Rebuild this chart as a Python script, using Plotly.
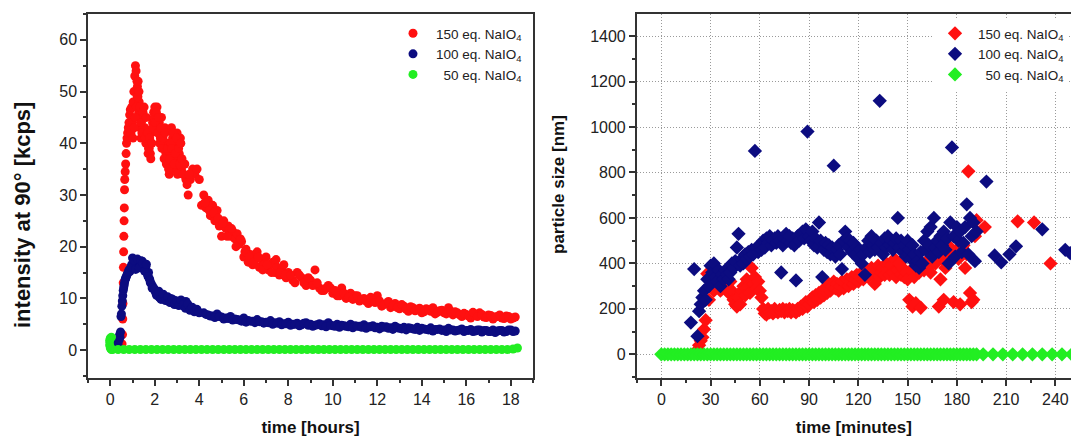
import plotly.graph_objects as go

# ---------------- Left panel: intensity at 90 deg vs time [hours] ----------------
red_h = [0.5,0.53,0.55,0.56,0.57,0.58,0.59,0.6,0.61,0.62,0.63,0.64,0.65,0.67,0.69,0.71,0.73,0.75,0.78,0.81,
         0.84,0.87,0.9,0.93,0.96,1.0,1.03,1.06,1.1,1.13,1.16,1.2,1.22,1.24,1.26,1.28,1.3,1.32,1.34,1.36,1.38,
         1.4,1.45,1.5,1.55,1.6,1.65,1.7,1.75,1.8,1.85,1.9,1.95,2.0,2.05,2.1,2.15,2.2,2.25,2.3,2.35,
         2.4,2.45,2.5,2.55,2.6,2.65,2.7,2.75,2.8,2.85,2.9,2.95,3.0,3.05,3.1,3.15,3.2,3.3,3.4,3.5,
         3.6,3.7,3.8,3.9,4.0,4.1,
         4.2,4.3,4.4,4.5,4.6,4.7,4.8,4.9,5.0,5.1,5.2,5.3,5.4,5.5,5.6,5.7,5.8,5.9,6.0,6.1,
         6.2,6.3,6.4,6.5,6.6,6.7,6.8,6.9,7.0,7.1,7.2,7.3,7.4,7.5,7.6,7.7,7.8,7.9,8.0,
         8.2,8.4,8.6,8.8,9.0,9.2,9.4,9.6,9.8,10.0,10.2,10.4,10.6,10.8,11.0,11.2,11.4,11.6,11.8,12.0,
         12.2,12.4,12.6,12.8,13.0,13.2,13.4,13.6,13.8,14.0,14.2,14.4,14.6,14.8,15.0,15.2,15.4,15.6,15.8,16.0,
         16.2,16.4,16.6,16.8,17.0,17.2,17.4,17.6,17.8,18.0,18.2]
red_kcps = [0.8,1.2,3,6,9,13,16,19,22,25,27.5,31,33,34.5,36,38,40,41,42,43,
            44,45.5,46.5,42,47,44,48,50,53,55,54,52,51,49,47,46,48,45,43,46,41,
            44,42,45,43,40,41,38,39,38,42,44,46,47,45,47,43,44,41,45,42,
            39,43,38,40,36,34,38,43,41,35,40,37,42,36,38,41,35,34,33,30,
            33,35,34,35,33,28,
            30,27.5,29,26,28,25,27,24,22,25,23.5,24,22,23,21.5,22.5,20.5,21,18,19.5,
            17,18.5,16.5,17.5,19,16,17.5,16.5,18,15.5,16.5,17,15,16,14.5,15.5,16.5,14,15,
            13.5,15,14,12.5,13.5,15.5,12,11.5,12.5,11,10.5,12,10,11,10.5,9.5,10,9,9.5,10.5,
            8.5,9,8.2,9,8,8.5,7.5,8.2,7.8,7.2,8,7.5,7,7.6,7.2,8.2,6.8,7.2,6.5,6.9,
            6.2,7,7.2,6.4,6.8,6,6.5,6.2,6.6,6,6.4]
red_h_more = [1.02,1.07,1.12,1.17,1.21,1.25,1.29,1.33,1.37,1.42,1.47,1.52,1.57,1.62,1.67,1.72,1.77,1.82,1.87,1.92,
              1.97,2.02,2.07,2.12,2.17,2.22,2.27,2.32,2.37,2.42,2.47,2.52,2.57,2.62,2.67,2.72,2.77,2.82,2.87,2.92,
              2.97,3.02,3.07,3.12,3.17,3.22,3.27,3.35,3.45,3.55,
              4.25,4.45,4.65,4.85,5.05,5.25,5.45,5.65,5.85,6.05,6.25,6.45,6.65,6.85,7.05,7.25,7.45,7.65,7.85,
              8.1,8.3,8.5,8.7,8.9,9.1,9.3,9.5,9.7,9.9,10.1,10.3,10.5,10.7,10.9,11.1,11.3,11.5,11.7,11.9,
              12.1,12.3,12.5,12.7,12.9,13.1,13.3,13.5,13.7,13.9,14.1,14.3,14.5,14.7,14.9,15.1,15.3,15.5,15.7,15.9,
              16.1,16.3,16.5,16.7,16.9,17.1,17.3,17.5,17.7,17.9,18.1]
red_kcps_more = [41,43,45,47,49,52,50,47,44,42,46,47,41,45,42,39,41,37,40,43,
                 45,44,46,42,45,40,43,39,41,37,42,36,39,35,37,40,39,42,36,38,
                 41,34,39,36,40,37,34,36,32,34,
                 28.5,27,26.5,25.5,24.5,22,23.5,20,21.5,19,18,17,18,15.5,16.5,15,17.5,15,14.5,
                 14.5,13,14.5,13,14,12.5,13,11.5,12,12,11.5,10.5,11,10.2,9.8,10.5,9.8,9.5,10.2,9.2,
                 9.5,8.8,9.4,8.6,8.2,8.8,7.9,8.4,7.6,8.1,7.4,7.8,8.2,7.3,7.7,7.0,7.5,7.4,6.8,7.1,
                 6.6,7.3,6.5,6.9,6.3,6.7,6.4,6.8,6.1,6.5,6.2]

blue_h = [0.0,0.02,0.04,0.06,0.1,0.15,0.2,0.25,0.3,0.35,0.4,0.42,0.44,0.46,0.48,
          0.5,0.52,0.54,0.56,0.58,0.6,0.62,0.64,0.66,0.68,0.7,0.73,0.76,0.8,0.84,0.88,0.92,0.96,1.0,
          1.04,1.08,1.12,1.16,1.2,1.24,1.28,1.32,1.36,1.4,1.44,1.48,
          1.52,1.56,1.6,1.64,1.68,1.72,1.76,1.8,1.85,1.9,1.95,2.0,2.05,2.1,2.15,2.2,2.3,2.4,2.5,2.6,
          2.7,2.8,2.9,3.0,3.1,3.2,3.3,3.4,3.5,3.6,3.7,3.8,3.9,4.0,
          4.2,4.4,4.6,4.8,5.0,5.2,5.4,5.6,5.8,6.0,6.2,6.4,6.6,6.8,7.0,7.2,7.4,7.6,7.8,8.0,
          8.2,8.4,8.6,8.8,9.0,9.2,9.4,9.6,9.8,10.0,10.2,10.4,10.6,10.8,11.0,11.2,11.4,11.6,11.8,12.0,
          12.2,12.4,12.6,12.8,13.0,13.2,13.4,13.6,13.8,14.0,14.2,14.4,14.6,14.8,15.0,15.2,15.4,15.6,15.8,16.0,
          16.2,16.4,16.6,16.8,17.0,17.2,17.4,17.6,17.8,18.0,18.2]
blue_kcps = [1.5,2.2,1.8,1.0,0.8,0.6,0.5,0.6,0.8,1.2,2.0,3.0,2.5,3.5,6.5,
             7,8.5,9.5,10.5,11.5,12,12.5,13,13.5,13.8,14,14.3,14.7,15,15.5,15.2,16,16.5,17.8,
             16.5,15.8,16.8,16,16.5,17.2,16.8,16.2,17,16.6,17.2,16,
             16.5,15.8,16.2,15,14.5,15,13.8,13,12.8,12.3,12,11.5,11,11.2,10.5,10.2,10,10.4,9.8,9.5,
             10,9.2,9.6,8.8,9.3,9,8.5,9.4,8.2,8,7.8,7.6,7.8,7.2,
             7.2,6.8,6.6,7,6.4,6.2,6.5,6.0,5.8,6.2,5.7,5.6,5.9,5.5,5.4,5.7,5.3,5.5,5.1,5.4,
             5.0,5.2,4.9,5.3,5.0,4.8,5.1,4.9,5.3,4.7,5.0,4.8,4.6,5.0,4.7,4.6,4.9,4.5,4.7,4.4,
             4.6,4.5,4.3,4.6,4.2,4.4,4.3,4.1,4.4,4.2,4.0,4.3,4.0,4.1,3.9,4.2,3.9,3.8,4.1,3.8,
             4.0,3.7,3.9,3.8,3.6,3.9,3.7,3.8,3.6,3.9,3.7]
blue_h_more = [0.98,1.06,1.14,1.22,1.3,1.38,1.46,1.54,1.62,1.7,1.78,1.88,1.98,2.08,2.18,2.28,2.38,2.48,2.58,2.68,
               2.78,2.88,2.98,3.08,3.18,3.28,3.38,3.48,3.58,3.68,3.78,3.88,3.98,
               4.3,4.5,4.7,4.9,5.1,5.3,5.5,5.7,5.9,6.1,6.3,6.5,6.7,6.9,7.1,7.3,7.5,7.7,7.9,8.1,
               8.3,8.5,8.7,8.9,9.1,9.3,9.5,9.7,9.9,10.1,10.3,10.5,10.7,10.9,11.1,11.3,11.5,11.7,11.9,12.1,
               12.3,12.5,12.7,12.9,13.1,13.3,13.5,13.7,13.9,14.1,14.3,14.5,14.7,14.9,15.1,15.3,15.5,15.7,15.9,16.1,
               16.3,16.5,16.7,16.9,17.1,17.3,17.5,17.7,17.9,18.1]
blue_kcps_more = [16.2,17.4,15.6,17.6,15.9,17.3,16.8,15.3,16.6,14.2,13.5,12.0,11.8,10.6,11.4,9.8,10.8,9.6,10.3,9.2,
                  9.9,8.8,9.5,8.6,9.7,8.8,8.1,8.9,7.7,8.3,7.4,7.9,7.3,
                  6.9,6.6,6.3,6.5,6.0,6.1,5.8,5.9,5.6,5.4,5.6,5.3,5.5,5.2,5.3,5.0,5.2,4.9,5.1,4.8,
                  5.0,4.7,5.2,4.8,4.6,4.9,4.7,4.5,4.8,4.6,4.4,4.7,4.5,4.3,4.6,4.4,4.2,4.5,4.3,4.1,
                  4.4,4.2,4.0,4.3,4.1,3.9,4.2,4.0,3.8,4.1,3.9,3.7,4.0,3.8,3.6,3.9,3.7,3.9,3.6,3.8,
                  3.6,3.9,3.5,3.8,3.6,3.4,3.8,3.5,3.9,3.6]

green_h = [0.05,0.0,-0.03,-0.03,0.0,0.05,
           0.1,0.35,0.6,0.85,1.1,1.35,1.6,1.85,2.1,2.35,2.6,2.85,3.1,3.35,3.6,3.85,4.1,4.35,4.6,4.85,
           5.1,5.35,5.6,5.85,6.1,6.35,6.6,6.85,7.1,7.35,7.6,7.85,8.1,8.35,8.6,8.85,9.1,9.35,9.6,9.85,
           10.1,10.35,10.6,10.85,11.1,11.35,11.6,11.85,12.1,12.35,12.6,12.85,13.1,13.35,13.6,13.85,
           14.1,14.35,14.6,14.85,15.1,15.35,15.6,15.85,16.1,16.35,16.6,16.85,17.1,17.35,17.6,17.85,18.1,18.3]
green_kcps = [2.5,2.3,1.8,1.0,0.4,0.1,
              0.1,0.1,0.1,0.1,0.1,0.1,0.1,0.1,0.1,0.1,0.1,0.1,0.1,0.1,0.1,0.1,0.1,0.1,0.1,0.1,
              0.1,0.1,0.1,0.1,0.1,0.1,0.1,0.1,0.1,0.1,0.1,0.1,0.1,0.1,0.1,0.1,0.1,0.1,0.1,0.1,
              0.1,0.1,0.1,0.1,0.1,0.1,0.1,0.1,0.1,0.1,0.1,0.1,0.1,0.1,0.1,0.1,
              0.1,0.1,0.1,0.1,0.1,0.1,0.1,0.1,0.1,0.1,0.1,0.1,0.1,0.1,0.1,0.1,0.2,0.4]

# ---------------- Right panel: particle size vs time [minutes] ----------------
red_min = [22,23,24,25,26,27,28,29,30,31,32,33,34,35,36,37,38,39,40,41,42,43,44,45,46,47,48,49,50,
           51,52,53,54,55,56,57,58,59,60,61,62,63,64,65,66,67,68,69,70,71,72,73,74,75,76,77,78,79,80,
           81,82,83,84,85,86,87,88,89,90,91,92,93,94,95,96,97,98,99,100,101,102,103,104,105,106,107,108,109,110,
           111,112,113,114,115,116,117,118,119,120,121,122,123,124,125,126,127,128,129,130,131,132,133,134,135,136,137,138,139,140,
           141,142,143,144,145,146,147,148,149,150,151,152,153,154,155,156,157,158,159,160,161,162,163,164,165,166,167,168,169,170,
           171,172,173,174,175,176,177,178,179,180,181,182,183,184,185,186,187,188,189,190,191,192,197,217,227,237]
red_nm = [20,40,60,75,110,150,355,240,300,330,280,350,300,320,280,310,330,290,300,270,320,280,240,220,210,250,220,280,300,
          260,330,300,270,380,310,340,290,320,280,250,200,180,175,200,185,190,180,200,190,185,195,190,200,185,195,190,200,185,195,
          190,185,200,195,210,200,215,230,210,220,240,250,230,260,240,270,250,280,260,290,270,310,280,300,320,290,310,280,300,320,
          290,310,330,300,320,340,310,330,350,320,340,360,330,350,370,340,360,380,350,310,370,390,340,360,380,350,400,370,350,390,
          360,420,340,370,400,350,380,340,360,330,240,370,210,340,225,380,360,205,390,370,400,380,420,360,410,440,400,450,210,330,
          420,240,380,410,460,470,420,230,440,460,420,220,470,480,380,440,805,270,230,240,520,590,560,585,580,400]

blue_min = [18,20,22,23,24,25,26,27,28,29,30,31,32,33,34,35,36,37,38,39,40,41,42,43,44,45,46,47,48,49,50,
            51,52,53,54,55,56,57,58,59,60,61,62,63,64,65,66,67,68,69,70,71,72,73,74,75,76,77,78,79,80,
            81,82,83,84,85,86,87,88,89,90,91,92,93,94,95,96,97,98,99,100,101,102,103,104,105,106,107,108,109,110,
            111,112,113,114,115,116,117,118,119,120,121,122,123,124,125,126,127,128,129,130,131,132,133,134,135,136,137,138,139,140,
            141,142,143,144,145,146,147,148,149,150,151,152,153,154,155,156,157,158,159,160,161,162,163,164,165,166,167,168,169,170,
            171,172,173,174,175,176,177,178,179,180,181,182,183,184,185,186,187,188,189,190,191,192,
            198,203,207,212,216,232,246,249]
blue_nm = [140,375,80,190,220,250,280,240,330,300,390,360,400,340,320,370,300,350,330,370,350,330,360,400,380,410,470,530,390,420,400,
           440,420,450,430,460,440,895,470,450,480,460,500,470,510,490,520,480,500,510,490,520,500,360,480,510,530,500,520,490,510,
           480,325,520,500,530,540,510,550,980,520,500,540,480,510,470,580,500,340,460,490,450,480,440,470,830,430,460,480,440,375,
           500,540,510,470,500,450,490,440,470,420,460,400,440,350,470,500,450,520,480,460,500,470,1115,490,440,510,470,520,480,500,
           460,490,510,600,470,500,450,480,430,500,460,420,480,440,390,410,380,450,400,500,460,540,480,560,430,600,470,500,450,520,
           480,540,460,510,400,580,910,520,430,560,500,540,450,490,560,660,440,600,520,580,410,540,
           760,435,405,440,475,550,460,445]

green_min = [0,2,4,6,8,10,12,14,16,18,20,22,24,26,28,30,32,34,36,38,40,42,44,46,48,50,52,54,56,58,60,
             62,64,66,68,70,72,74,76,78,80,82,84,86,88,90,92,94,96,98,100,102,104,106,108,110,112,114,116,118,120,
             122,124,126,128,130,132,134,136,138,140,142,144,146,148,150,152,154,156,158,160,162,164,166,168,170,
             172,174,176,178,180,182,184,186,188,190,192,
             196,202,208,214,220,226,232,238,244,250,256]
green_nm = [0,0,0,0,0,0,0,0,0,0,0,0,0,0,0,0,0,0,0,0,0,0,0,0,0,0,0,0,0,0,0,
            0,0,0,0,0,0,0,0,0,0,0,0,0,0,0,0,0,0,0,0,0,0,0,0,0,0,0,0,0,0,
            0,0,0,0,0,0,0,0,0,0,0,0,0,0,0,0,0,0,0,0,0,0,0,0,0,
            0,0,0,0,0,0,0,0,0,0,0,
            0,0,0,0,0,0,0,0,0,0,0]

series_names = ["150 eq. NaIO<sub>4</sub>", "100 eq. NaIO<sub>4</sub>", "\u200750 eq. NaIO<sub>4</sub>"]
RED, BLUE, GREEN = "#ff1010", "#0c0c80", "#22ee22"

fig = go.Figure()
for xs, ys, col, name in [(red_h + red_h_more, red_kcps + red_kcps_more, RED, series_names[0]),
                          (blue_h + blue_h_more, blue_kcps + blue_kcps_more, BLUE, series_names[1]),
                          (green_h, green_kcps, GREEN, series_names[2])]:
    fig.add_trace(go.Scatter(x=xs, y=ys, mode="markers", name=name, xaxis="x", yaxis="y",
                             marker=dict(symbol="circle", size=9, color=col, line=dict(width=0)),
                             legend="legend"))
for xs, ys, col, name in [(red_min, red_nm, RED, series_names[0]),
                          (blue_min, blue_nm, BLUE, series_names[1]),
                          (green_min, green_nm, GREEN, series_names[2])]:
    fig.add_trace(go.Scatter(x=xs, y=ys, mode="markers", name=name, xaxis="x2", yaxis="y2",
                             marker=dict(symbol="diamond", size=11, color=col, line=dict(width=0)),
                             legend="legend2"))

FONT = "Liberation Sans, Arial, sans-serif"
AX = "#333333"
tickfont = dict(family=FONT, size=16, color="#222222")
xtitlefont = dict(family=FONT, size=17, color="#111111", weight="bold")

common = dict(showline=True, linecolor=AX, linewidth=1.5, ticks="outside", ticklen=6, tickwidth=1.5,
              tickcolor=AX, tickfont=tickfont, zeroline=False)
minor_common = dict(ticklen=3, tickwidth=1.5, tickcolor=AX, ticks="outside", showgrid=False)

fig.update_layout(
    width=1071, height=438, margin=dict(l=0, r=0, t=0, b=0),
    paper_bgcolor="white", plot_bgcolor="white", showlegend=True,
    xaxis=dict(domain=[0.0822, 0.4977], range=[-1, 19], dtick=2, tick0=0, mirror=True, showgrid=False,
               minor=dict(dtick=1, **minor_common),
               title=dict(text="time [hours]", font=xtitlefont, standoff=14), anchor="y", **common),
    yaxis=dict(domain=[0.137, 0.968], range=[-5.4, 65], dtick=10, tick0=0, mirror=True, showgrid=False,
               minor=dict(dtick=5, **minor_common), anchor="x", **common),
    xaxis2=dict(domain=[0.5945, 1.0], range=[-15, 249.5], dtick=30, tick0=0, mirror=True,
                showgrid=True, gridcolor="#9a9a9a", gridwidth=1, griddash="1px,2px",
                minor=dict(dtick=15, **minor_common),
                title=dict(text="time [minutes]", font=xtitlefont, standoff=14), anchor="y2", **common),
    yaxis2=dict(domain=[0.137, 0.968], range=[-104, 1497], dtick=200, tick0=0, mirror=False,
                showgrid=True, gridcolor="#9a9a9a", gridwidth=1, griddash="1px,2px",
                minor=dict(dtick=100, **minor_common), anchor="x2", **common),
    legend=dict(x=390/1071, y=(438-18)/438, xanchor="left", yanchor="top", bgcolor="rgba(255,255,255,0)",
                borderwidth=0, font=dict(family=FONT, size=13.5, color="#222222"), itemwidth=36,
                tracegroupgap=0),
    legend2=dict(x=932/1071, y=(438-18)/438, xanchor="left", yanchor="top", bgcolor="white",
                 borderwidth=0, font=dict(family=FONT, size=13.5, color="#222222"), itemwidth=36,
                 tracegroupgap=0),
    annotations=[
        dict(text="intensity at 90° [kcps]", textangle=-90, xref="paper", yref="paper",
             x=22/1071, y=(438-215)/438, xanchor="center", yanchor="middle", showarrow=False,
             font=dict(family=FONT, size=22, color="#111111", weight="bold")),
        dict(text="particle size [nm]", textangle=-90, xref="paper", yref="paper",
             x=559/1071, y=(438-185)/438, xanchor="center", yanchor="middle", showarrow=False,
             font=dict(family=FONT, size=17, color="#111111", weight="bold")),
    ],
)

fig.write_html("out.html")
